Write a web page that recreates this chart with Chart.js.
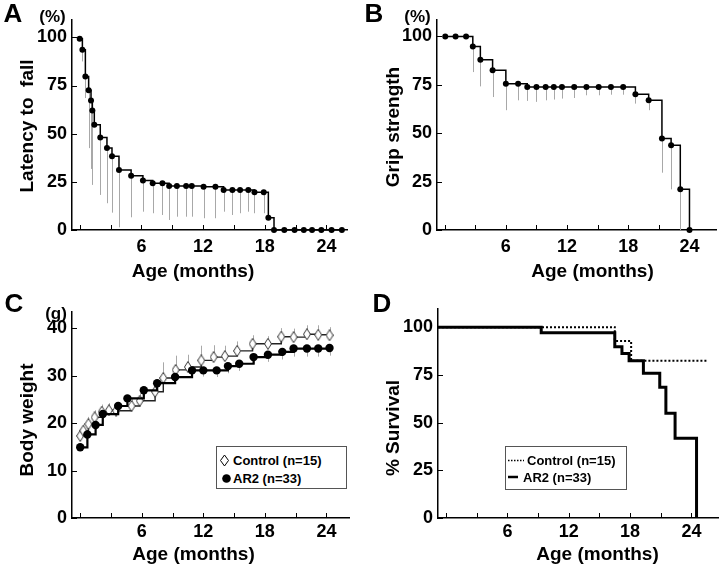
<!DOCTYPE html>
<html>
<head>
<meta charset="utf-8">
<script src="https://cdn.jsdelivr.net/npm/chart.js@4.4.1/dist/chart.umd.min.js"></script>
<style>
  body { margin: 0; background: #fff; }
  #fig { position: relative; width: 720px; height: 568px; overflow: hidden;
         font-family: 'Liberation Sans', Arial, sans-serif; font-weight: bold; color: #000; }
  #fig canvas { position: absolute; }
  .t { position: absolute; transform: translate(-50%, -50%); line-height: 1; white-space: nowrap; }
  .ty { transform: translate(-50%, -50%) rotate(-90deg); }
  .letter { font-size: 26px; }
  .unit { font-size: 17px; }
  .atitle { font-size: 19px; }
  .legend { position: absolute; border: 1px solid #555; background: #fff; font-size: 13px; }
  .legend span { position: absolute; line-height: 1; white-space: nowrap; }
</style>
</head>
<body>
<div id="fig">
  <canvas id="chartA" width="360" height="290" style="left:0;top:0"></canvas>
  <canvas id="chartB" width="360" height="290" style="left:360px;top:0"></canvas>
  <canvas id="chartC" width="360" height="278" style="left:0;top:290px"></canvas>
  <canvas id="chartD" width="360" height="278" style="left:360px;top:290px"></canvas>

  <div class="t letter" style="left:13px;top:12.5px">A</div>
  <div class="t letter" style="left:374px;top:12.5px">B</div>
  <div class="t letter" style="left:14px;top:303px">C</div>
  <div class="t letter" style="left:382px;top:302.5px">D</div>

  <div class="t unit" style="left:52.5px;top:15.5px">(%)</div>
  <div class="t unit" style="left:417.5px;top:15.5px">(%)</div>
  <div class="t unit" style="left:56px;top:312.5px">(g)</div>

  <div class="t atitle ty" style="left:26px;top:126px">Latency to&nbsp; fall</div>
  <div class="t atitle ty" style="left:392px;top:126.5px">Grip strength</div>
  <div class="t atitle ty" style="left:26px;top:420px">Body weight</div>
  <div class="t atitle ty" style="left:392px;top:428px">% Survival</div>

  <div class="t atitle" style="left:193px;top:270px">Age (months)</div>
  <div class="t atitle" style="left:592.5px;top:270px">Age (months)</div>
  <div class="t atitle" style="left:193.5px;top:553px">Age (months)</div>
  <div class="t atitle" style="left:597.5px;top:553px">Age (months)</div>

  <div class="legend" style="left:216px;top:446px;width:129px;height:41px">
    <svg style="position:absolute;left:2px;top:7px" width="11" height="13">
      <polygon points="5.5,1 9.5,6.5 5.5,12 1.5,6.5" fill="#fff" stroke="#000" stroke-width="1"/>
    </svg>
    <span style="left:16px;top:7px">Control (n=15)</span>
    <svg style="position:absolute;left:4px;top:26px" width="11" height="11">
      <circle cx="5.5" cy="5.5" r="4.3" fill="#000"/>
    </svg>
    <span style="left:16px;top:25px">AR2 (n=33)</span>
  </div>

  <div class="legend" style="left:505px;top:446px;width:120px;height:42px">
    <svg style="position:absolute;left:2px;top:12px" width="16" height="3">
      <line x1="0" y1="1.5" x2="16" y2="1.5" stroke="#000" stroke-width="1.5" stroke-dasharray="1.5,1.5"/>
    </svg>
    <span style="left:21px;top:7px">Control (n=15)</span>
    <svg style="position:absolute;left:2px;top:28px" width="10" height="4">
      <line x1="0" y1="2" x2="10" y2="2" stroke="#000" stroke-width="2.5"/>
    </svg>
    <span style="left:17px;top:24px">AR2 (n=33)</span>
  </div>
</div>

<script>
// shared tick values / labels
const monthTicks = [0, 3, 6, 9, 12, 15, 18, 21, 24];
const monthLabels = ['', '', '6', '', '12', '', '18', '', '24'];
const pctTicks = [0, 25, 50, 75, 100];
const gramTicks = [0, 10, 20, 30, 40];

// A - latency to fall (%)
const ageA = [0, 0.26, 0.55, 0.87, 1.1, 1.23, 1.42, 2.0, 2.65, 3.14, 3.82, 5.0, 6.15, 7.1, 8.05, 8.7, 9.45,
  10.35, 10.9, 12.05, 13.2, 14.0, 14.85, 15.6, 16.4, 17.0, 17.9, 18.35, 18.9, 19.9, 20.9, 21.8, 22.6, 23.5, 24.5, 25.5];
const latency = [99.3, 93.6, 79.7, 72.6, 67.2, 62.0, 54.6, 48.0, 42.5, 38.3, 31.2, 28.2, 25.7, 24.3, 24.3, 22.9, 22.9,
  22.9, 22.9, 22.5, 22.5, 20.8, 20.8, 20.8, 20.8, 19.6, 19.6, 6.3, 0, 0, 0, 0, 0, 0, 0, 0];
const latencyLow = [null, 87.5, 68.5, 42.5, 31.7, 23.4, null, 18.2, 13.9, 9.0, 1.4, 6.6, 9.5, 8.7, 7.8, 5.2, 6.9,
  6.9, 6.9, 6.1, 6.1, 9.5, 7.8, 8.7, 9.5, 8.7, 8.7, null, null, null, null, null, null, null, null, null];

// B - grip strength (%)
const ageB = [0.06, 1.07, 2.1, 2.76, 3.5, 4.7, 6.0, 7.2, 8.1, 9.0, 9.9, 10.7, 11.5, 12.7, 13.9, 15.1, 16.3, 17.5,
  18.7, 20.0, 21.3, 22.2, 23.1, 24.0];
const grip = [100, 100, 100, 94.8, 88, 82.5, 75.6, 75.6, 73.9, 73.9, 73.9, 73.9, 73.9, 73.9, 73.9, 73.9, 73.9, 73.9,
  70.1, 67, 47.3, 43.8, 21.1, 0];
const gripLow = [null, null, null, 81.6, 74.2, 68.7, 61.9, 67, 66.7, 66.2, 67, 67.4, 67.9, 68.2, 69.6, 69.6, 69.9, 69.9,
  65.3, 61.9, 29.6, 21, 0, null];

// C - body weight (g)
const ageAR2 = [0, 0.7, 1.5, 2.2, 3.7, 4.6, 6.2, 7.5, 9.25, 10.9, 12.0, 13.3, 14.4, 15.5, 16.9, 18.3, 19.7, 20.8, 22.1, 23.2, 24.3];
const weightAR2 = [14.9, 17.6, 19.6, 21.9, 23.6, 25.2, 26.9, 28.4, 29.7, 31.1, 31.1, 31.1, 32.0, 32.5, 33.9, 34.4, 35.0, 35.7, 35.7, 35.7, 35.8];
const semAR2 = [0.6, 1.0, 1.0, 1.0, 1.0, 1.2, 1.2, 1.3, 1.3, 1.5, 1.3, 1.4, 1.5, 1.5, 1.4, 1.5, 1.6, 1.7, 1.7, 1.7, 1.6];
const ageCtrl = [0, 0.3, 0.8, 1.4, 2.1, 2.8, 3.5, 5.0, 5.8, 7.3, 8.1, 9.3, 10.5, 11.8, 13.0, 14.1, 15.3, 16.8, 18.3, 19.6, 20.8, 22.1, 23.2, 24.3];
const weightCtrl = [17.3, 18.4, 19.8, 21.2, 22.4, 22.7, 22.6, 23.6, 24.7, 26.6, 29.5, 31.2, 31.8, 33.2, 33.9, 34.1, 35.2, 36.7, 36.7, 38.2, 38.1, 38.7, 38.6, 38.5];
const semCtrl = [1.2, 1.3, 1.5, 1.5, 1.5, 1.5, 1.5, 1.6, 1.6, 2.0, 3.3, 3.0, 2.6, 3.1, 2.5, 2.2, 2.0, 1.8, 1.6, 1.8, 1.8, 1.9, 2.0, 1.7];

// D - survival (%)
const survAgeAR2 = [-0.8, 9.3, 16.5, 17.2, 17.9, 19.3, 20.9, 21.5, 22.4, 24.5];
const survAR2 = [100, 97.0, 89.7, 86.2, 82.4, 75.8, 68.5, 54.9, 41.8, 0];
const survAgeCtrl = [-0.8, 16.5, 18.1, 25.6];
const survCtrl = [100, 92.7, 82.4, 82.4];

Chart.defaults.font.family = "'Liberation Sans', Arial, sans-serif";
Chart.defaults.font.weight = 'bold';
Chart.defaults.font.size = 18;
Chart.defaults.color = '#000';

const pts = (xs, ys) => xs.map((x, i) => ({ x: x, y: ys[i] }));

// thin grey error whiskers (one side only)
const errorBars = {
  id: 'errorBars',
  beforeDatasetsDraw(chart, args, opts) {
    const { ctx, scales: { x, y } } = chart;
    ctx.save();
    ctx.strokeStyle = '#a8a8a8';
    ctx.lineWidth = 1;
    (opts.sets || []).forEach(s => {
      s.x.forEach((xv, i) => {
        if (s.end[i] == null) return;
        const px = Math.round(x.getPixelForValue(xv)) + 0.5;
        ctx.beginPath();
        ctx.moveTo(px, y.getPixelForValue(s.y[i]));
        ctx.lineTo(px, y.getPixelForValue(s.end[i]));
        ctx.stroke();
      });
    });
    ctx.restore();
  }
};

// tick marks pointing into the plot
const inTicks = {
  id: 'inTicks',
  afterDraw(chart) {
    const { ctx, chartArea: a, scales: { x, y } } = chart;
    ctx.save();
    ctx.strokeStyle = '#000';
    ctx.lineWidth = 1;
    x.ticks.forEach(t => {
      const px = Math.round(x.getPixelForValue(t.value)) + 0.5;
      ctx.beginPath(); ctx.moveTo(px, a.bottom); ctx.lineTo(px, a.bottom - 5); ctx.stroke();
    });
    y.ticks.forEach(t => {
      const py = Math.round(y.getPixelForValue(t.value)) + 0.5;
      ctx.beginPath(); ctx.moveTo(a.left, py); ctx.lineTo(a.left + 5, py); ctx.stroke();
    });
    ctx.restore();
  }
};

function diamond(w, h) {
  const c = document.createElement('canvas');
  c.width = w; c.height = h;
  const g = c.getContext('2d');
  g.beginPath();
  g.moveTo(w / 2, 0.5); g.lineTo(w - 0.5, h / 2); g.lineTo(w / 2, h - 0.5); g.lineTo(0.5, h / 2);
  g.closePath();
  g.fillStyle = '#fff'; g.fill();
  g.strokeStyle = '#333'; g.lineWidth = 1; g.stroke();
  return c;
}

function options(p, errSets) {
  return {
    responsive: false,
    animation: false,
    layout: { padding: { top: p.top, right: p.right, left: 0, bottom: 0 } },
    plugins: { legend: { display: false }, tooltip: { enabled: false }, errorBars: { sets: errSets } },
    scales: {
      x: {
        type: 'linear', min: p.xMin, max: p.xMax,
        afterBuildTicks: s => { s.ticks = monthTicks.map(v => ({ value: v })); },
        afterFit: s => { s.height = p.xh; },
        grid: { drawOnChartArea: false, drawTicks: false },
        border: { color: '#000', width: 1.5 },
        ticks: { autoSkip: false, maxRotation: 0, padding: p.xpad, callback: (v, i) => monthLabels[i] }
      },
      y: {
        type: 'linear', min: 0, max: p.yMax,
        afterBuildTicks: s => { s.ticks = p.yTicks.map(v => ({ value: v })); },
        afterFit: s => { s.width = p.yw; },
        grid: { drawOnChartArea: false, drawTicks: false },
        border: { color: '#000', width: 1.5 },
        ticks: { padding: 5, callback: (v, i) => String(p.yTicks[i]) }
      }
    }
  };
}

const stepDots = (xs, ys) => ({
  data: pts(xs, ys), stepped: true, borderColor: '#000', borderWidth: 1.5,
  pointRadius: 3, pointBackgroundColor: '#000', pointBorderWidth: 0, clip: false
});

new Chart(document.getElementById('chartA'), {
  type: 'line',
  data: { datasets: [stepDots(ageA, latency)] },
  options: options({ top: 20, right: 13, xh: 60, yw: 72, xpad: 6, xMin: -0.75, xMax: 26, yMax: 109, yTicks: pctTicks },
    [{ x: ageA, y: latency, end: latencyLow }]),
  plugins: [errorBars, inTicks]
});

new Chart(document.getElementById('chartB'), {
  type: 'line',
  data: { datasets: [stepDots(ageB, grip)] },
  options: options({ top: 20, right: 2, xh: 60, yw: 77, xpad: 6, xMin: -0.75, xMax: 26.6, yMax: 108.5, yTicks: pctTicks },
    [{ x: ageB, y: grip, end: gripLow }]),
  plugins: [errorBars, inTicks]
});

new Chart(document.getElementById('chartC'), {
  type: 'line',
  data: {
    datasets: [
      { data: pts(ageAR2, weightAR2), stepped: true, borderColor: '#000', borderWidth: 2.2,
        pointRadius: 4.2, pointBackgroundColor: '#000', pointBorderWidth: 0, clip: false },
      { data: pts(ageCtrl, weightCtrl), stepped: true, borderColor: '#222', borderWidth: 1.4,
        pointStyle: diamond(8, 12), clip: false }
    ]
  },
  options: options({ top: 22, right: 11, xh: 50, yw: 72, xpad: 3, xMin: -0.8, xMax: 26.2, yMax: 43.4, yTicks: gramTicks },
    [{ x: ageAR2, y: weightAR2, end: weightAR2.map((v, i) => v - semAR2[i]) },
     { x: ageCtrl, y: weightCtrl, end: weightCtrl.map((v, i) => v + semCtrl[i]) }]),
  plugins: [errorBars, inTicks]
});

new Chart(document.getElementById('chartD'), {
  type: 'line',
  data: {
    datasets: [
      { data: pts(survAgeAR2, survAR2), stepped: true, borderColor: '#000', borderWidth: 3,
        pointRadius: 0, clip: false },
      { data: pts(survAgeCtrl, survCtrl), stepped: true, borderColor: '#000', borderWidth: 2,
        borderDash: [2, 2], pointRadius: 0, clip: false }
    ]
  },
  options: options({ top: 19, right: 2, xh: 50, yw: 78, xpad: 3, xMin: -0.8, xMax: 26.6, yMax: 109.5, yTicks: pctTicks }, []),
  plugins: [errorBars, inTicks]
});
</script>
</body>
</html>
